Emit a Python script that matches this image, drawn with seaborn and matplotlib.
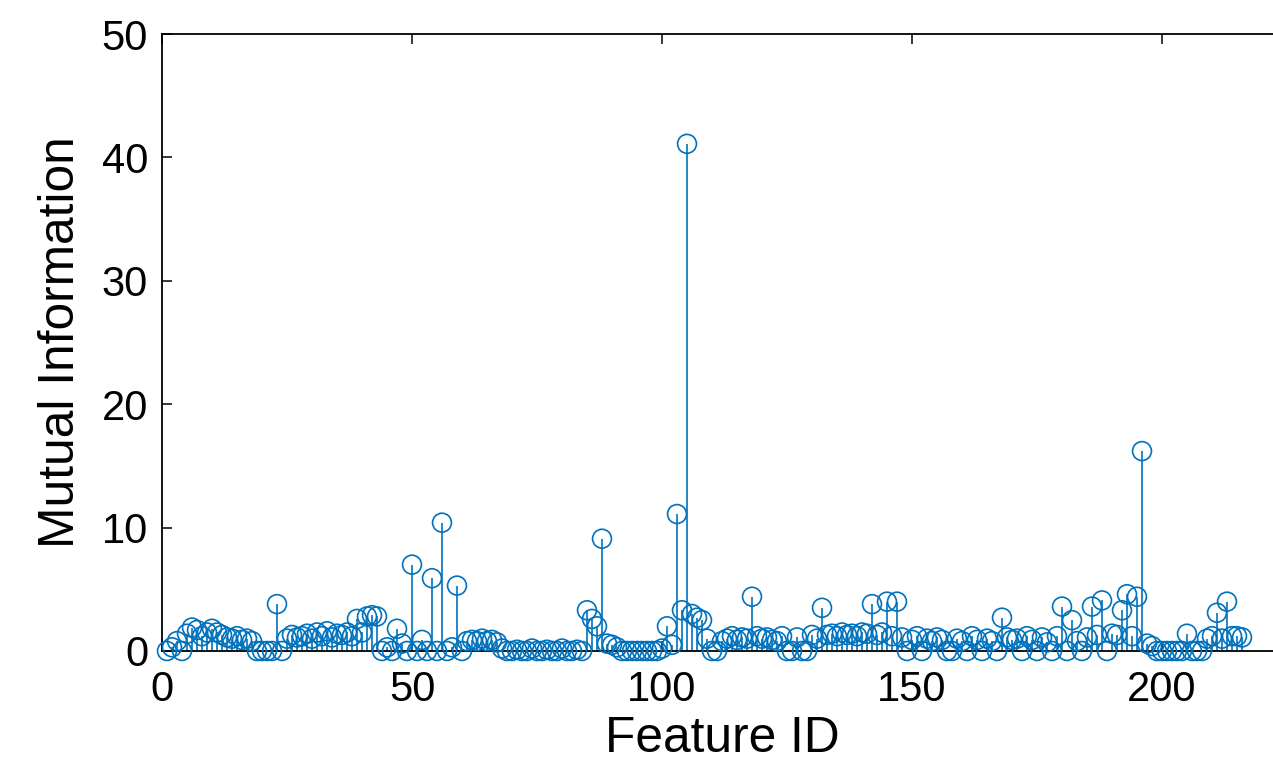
"""
plot.py
Stem plot of mutual information per feature (MATLAB-style look).
"""

import numpy as np
import pandas as pd
import matplotlib
matplotlib.use("Agg")
import matplotlib.pyplot as plt
import seaborn as sns


# mutual information per feature, features 1..216
MI_VALUES = [
    0, 0.3, 0.8, 0, 1.4, 1.9, 1.7, 1.2, 1.5, 1.8,
    1.5, 1.3, 1.1, 1.0, 1.2, 0.9, 1.0, 0.8, 0, 0,
    0, 0, 3.8, 0, 1.0, 1.3, 1.1, 1.2, 1.4, 1.0,
    1.5, 1.2, 1.6, 1.1, 1.4, 1.3, 1.5, 1.2, 2.6, 1.5,
    2.8, 2.9, 2.8, 0, 0.3, 0, 1.8, 0.6, 0, 7.0,
    0, 0.9, 0, 5.9, 0, 10.4, 0, 0.3, 5.3, 0,
    0.8, 0.9, 0.8, 1.0, 0.8, 0.9, 0.7, 0.2, 0, 0,
    0.1, 0, 0, 0.2, 0, 0, 0.1, 0, 0, 0.2,
    0, 0, 0.1, 0, 3.3, 2.6, 2.0, 9.1, 0.6, 0.5,
    0.3, 0, 0, 0, 0, 0, 0, 0, 0, 0.2,
    2.0, 0.5, 11.1, 3.3, 41.1, 3.0, 2.7, 2.5, 1.0, 0,
    0, 0.8, 1.0, 1.2, 0.9, 1.1, 1.0, 4.4, 1.2, 1.0,
    1.1, 0.9, 0.8, 1.2, 0, 0, 1.1, 0, 0, 1.3,
    1.0, 3.5, 1.3, 1.4, 1.2, 1.5, 1.3, 1.4, 1.2, 1.5,
    1.4, 3.8, 1.3, 1.5, 4.0, 1.2, 4.0, 1.1, 0, 0.9,
    1.2, 0, 1.0, 0.8, 1.1, 0.9, 0, 0, 1.0, 0.8,
    0, 1.2, 0.9, 0, 1.0, 0.8, 0, 2.7, 1.1, 0.9,
    1.0, 0, 1.2, 0.9, 0, 1.1, 0.7, 0, 1.2, 3.6,
    0, 2.5, 0.8, 0, 1.1, 3.6, 1.3, 4.1, 0, 1.4,
    1.3, 3.3, 4.6, 1.2, 4.4, 16.2, 0.6, 0.4, 0, 0,
    0, 0, 0, 0, 1.4, 0, 0, 0, 1.0, 1.2,
    3.1, 1.0, 4.0, 1.2, 1.2, 1.1,
]
FEATURE_IDS = list(range(1, len(MI_VALUES) + 1))

X_TICKS = [0, 50, 100, 150, 200]
Y_TICKS = [0, 10, 20, 30, 40, 50]

STEM_COLOR = "#0072BD"

sns.set_theme(style="ticks")
plt.rcParams["font.family"] = ["Liberation Sans", "DejaVu Sans"]

df = pd.DataFrame({"feature": FEATURE_IDS, "mi": MI_VALUES})

W, H = 1273, 761
fig = plt.figure(figsize=(W / 100, H / 100), dpi=100)
# axes runs a little past the right edge of the picture (cropped figure)
ax = fig.add_axes([162 / W, 110 / H, 1120 / W, 617 / H])

# stems
ax.vlines(df["feature"], 0, df["mi"], color=STEM_COLOR, linewidth=1.2,
          zorder=2, clip_on=False)
# open circle heads
sns.scatterplot(data=df, x="feature", y="mi", ax=ax, s=185,
                facecolor="none", edgecolor=STEM_COLOR, linewidth=1.2,
                marker="o", zorder=3, clip_on=False, legend=False)

ax.set_xlim(0, 224)
ax.set_ylim(0, 50)
ax.set_xticks(X_TICKS)
ax.set_yticks(Y_TICKS)

for side in ["top", "right", "bottom", "left"]:
    ax.spines[side].set_visible(True)
    ax.spines[side].set_color("black")
    ax.spines[side].set_linewidth(1.3)

ax.tick_params(direction="in", length=7, width=1.1, top=True, right=False,
               labelsize=30, colors="black")
ax.tick_params(axis="x", pad=14)
ax.tick_params(axis="y", pad=10)

ax.set_xlabel("Feature ID", fontsize=35.7, labelpad=4, color="black")
ax.set_ylabel("Mutual Information", fontsize=35.7, labelpad=13, color="black")
ax.grid(False)

plt.savefig("out.png", dpi=100)
